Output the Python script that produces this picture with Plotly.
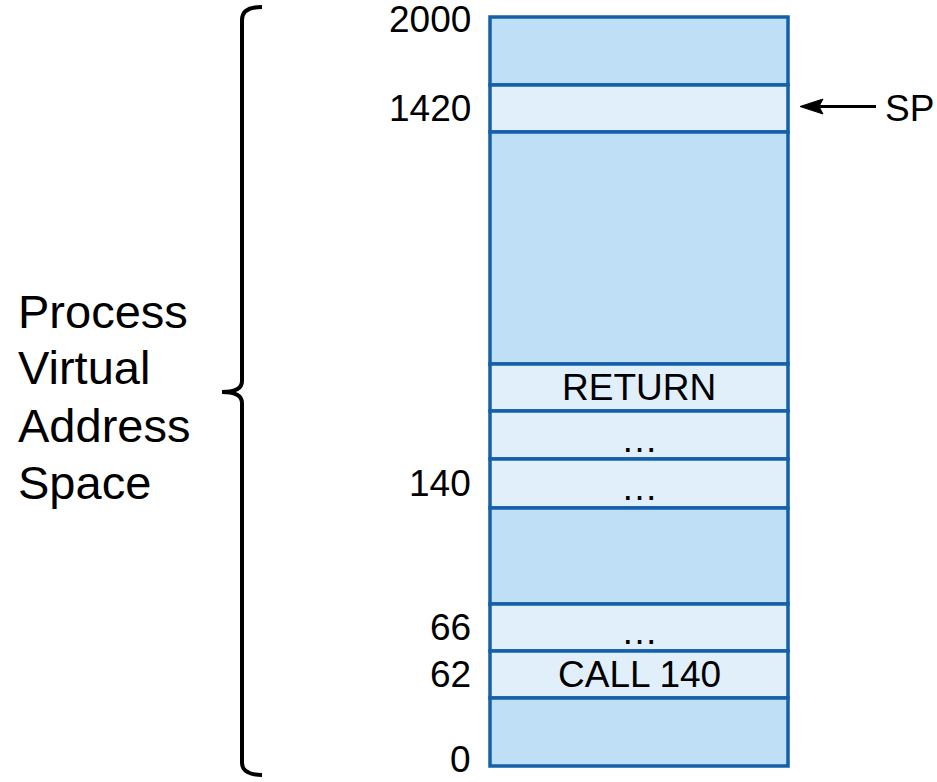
import plotly.graph_objects as go

# ---- diagram content (top to bottom) ----
row_contents = ["", "", "", "RETURN", "\u2026", "\u2026", "", "\u2026", "CALL 140", ""]
row_shades = ["dark", "light", "dark", "light", "light", "light", "dark", "light", "light", "dark"]
row_addr_labels = ["", "1420", "", "", "", "140", "", "66", "62", ""]
top_addr_label = "2000"
bottom_addr_label = "0"
side_label_lines = ["Process", "Virtual", "Address", "Space"]
pointer_label = "SP"
pointer_row = 1

# ---- geometry (pixel-like layout units) ----
W, H = 937, 782
box_left, box_right = 490, 788
row_edges = [17, 85, 132, 364, 411, 459, 508, 604, 651, 698, 766]
side_line_y = [311, 367, 425, 482]

colors = {"dark": "#BFDFF7", "light": "#E1EFFB"}
border = "#1560A8"
font_family = "Liberation Sans, Arial, sans-serif"
FS = 37

fig = go.Figure()
# invisible trace to establish axes
fig.add_trace(go.Scatter(x=[0, W], y=[0, H], mode="markers",
                         marker=dict(opacity=0), hoverinfo="skip", showlegend=False))

shapes = []
annotations = []
xc = (box_left + box_right) / 2
for i, (content, shade, lab) in enumerate(zip(row_contents, row_shades, row_addr_labels)):
    y0, y1 = row_edges[i], row_edges[i + 1]
    shapes.append(dict(type="rect", xref="x", yref="y", x0=box_left, x1=box_right,
                       y0=y0, y1=y1, fillcolor=colors[shade],
                       line=dict(color=border, width=3.5), layer="below"))
    yc = (y0 + y1) / 2
    if content:
        dy = 4 if content == "\u2026" else 0
        annotations.append(dict(x=xc, y=yc + dy, xref="x", yref="y", text=content,
                                showarrow=False, xanchor="center", yanchor="middle",
                                font=dict(size=FS, color="black", family=font_family)))
    if lab:
        annotations.append(dict(x=473, y=yc, xref="x", yref="y", text=lab,
                                showarrow=False, xanchor="right", yanchor="middle",
                                font=dict(size=FS, color="black", family=font_family)))

annotations.append(dict(x=473, y=row_edges[0] + 2, xref="x", yref="y", text=top_addr_label,
                        showarrow=False, xanchor="right", yanchor="middle",
                        font=dict(size=FS, color="black", family=font_family)))
annotations.append(dict(x=473, y=H, xref="x", yref="y", text=bottom_addr_label,
                        showarrow=False, xanchor="right", yanchor="bottom",
                        font=dict(size=FS, color="black", family=font_family)))

# SP pointer
py = (row_edges[pointer_row] + row_edges[pointer_row + 1]) / 2 - 2
shapes.append(dict(type="line", xref="x", yref="y", x0=815, x1=876, y0=py, y1=py,
                   line=dict(color="black", width=2.8)))
shapes.append(dict(type="path", xref="x", yref="y",
                   path=f"M 800,{py} L 823,{py-7.5} L 819,{py} L 823,{py+7.5} Z",
                   fillcolor="black", line=dict(color="black", width=1)))
annotations.append(dict(x=883, y=py + 2, xref="x", yref="y", text=pointer_label,
                        showarrow=False, xanchor="left", yanchor="middle",
                        font=dict(size=FS, color="black", family=font_family)))

# brace
shapes.append(dict(type="path", xref="x", yref="y",
                   path=("M 262,7 C 250,7 242,10 242,20 L 242,381 "
                         "C 242,388 236,392 222,392 C 236,392 242,396 242,403 "
                         "L 242,763 C 242,771 250,775 262,775"),
                   line=dict(color="black", width=4)))

for txt, yv in zip(side_label_lines, side_line_y):
    annotations.append(dict(x=16, y=yv, xref="x", yref="y", text=txt,
                            showarrow=False, xanchor="left", yanchor="middle", align="left",
                            font=dict(size=47, color="black", family=font_family)))

fig.update_layout(
    width=W, height=H, margin=dict(l=0, r=0, t=0, b=0),
    paper_bgcolor="white", plot_bgcolor="white",
    xaxis=dict(range=[0, W], visible=False, fixedrange=True),
    yaxis=dict(range=[H, 0], visible=False, fixedrange=True),
    shapes=shapes, annotations=annotations, showlegend=False,
)

fig.write_html("out.html", config={"displayModeBar": False},
               post_script="document.body.style.margin='0';")
